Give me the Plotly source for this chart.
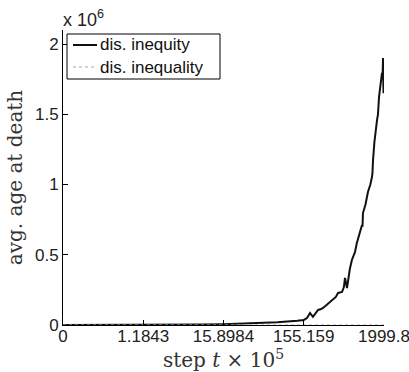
import plotly.graph_objects as go

# tick positions (equally spaced) and their labels
x_tick_pos = [0, 1, 2, 3, 4]
x_tick_text = ["0", "1.1843", "15.8984", "155.159", "1999.8"]
y_tick_vals = [0, 0.5, 1, 1.5, 2]
y_tick_text = ["0", "0.5", "1", "1.5", "2"]

# dis. inequity (values in units of 10^6)
inequity_x = [0, 0.5, 1.0, 1.5, 1.71, 2.0, 2.3, 2.67, 2.92, 3.0, 3.04, 3.078, 3.115,
              3.15, 3.178, 3.21, 3.24, 3.28, 3.327, 3.37, 3.4, 3.427, 3.477, 3.5,
              3.514, 3.539, 3.551, 3.575, 3.60, 3.62, 3.639, 3.66, 3.676, 3.70,
              3.726, 3.732, 3.738, 3.77, 3.8, 3.83, 3.85, 3.856, 3.863, 3.88,
              3.913, 3.925, 3.938, 3.955, 3.975, 3.982, 3.988, 3.991, 3.994]
inequity_y = [0.0, 0.0, 0.0, 0.001, 0.003, 0.006, 0.011, 0.019, 0.03, 0.036, 0.05, 0.085, 0.058,
              0.09, 0.107, 0.112, 0.121, 0.14, 0.164, 0.19, 0.2, 0.228, 0.235, 0.27,
              0.335, 0.263, 0.32, 0.4, 0.463, 0.49, 0.52, 0.58, 0.619, 0.66,
              0.712, 0.70, 0.797, 0.86, 0.947, 1.0, 1.053, 1.08, 1.17, 1.3,
              1.459, 1.5, 1.623, 1.7, 1.794, 1.77, 1.9, 1.75, 1.65]

# dis. inequality
inequality_x = [0, 4]
inequality_y = [0, 0]

series_names = ["dis. inequity", "dis. inequality"]

fig = go.Figure()
fig.add_trace(go.Scatter(x=inequity_x, y=inequity_y, mode="lines", name=series_names[0],
                         line=dict(color="#111111", width=2), showlegend=False))
fig.add_trace(go.Scatter(x=inequality_x, y=inequality_y, mode="lines", name=series_names[1],
                         line=dict(color="#aaaaaa", width=1, dash="dot"), showlegend=False))

tickfont = dict(family="Liberation Sans", size=17, color="#222222")
serif = dict(family="DejaVu Serif", size=20, color="#333333")

# legend drawn as a box in paper coordinates (plot area: 321 x 295 px)
W, H = 321.0, 295.0
def px(x):
    return x / W
def py(y):
    return 1 - y / H

shapes = [
    dict(type="rect", xref="paper", yref="paper", x0=px(4), x1=px(157), y0=py(4), y1=py(49),
         line=dict(color="black", width=1), fillcolor="white", layer="above"),
    dict(type="line", xref="paper", yref="paper", x0=px(10), x1=px(34), y0=py(15), y1=py(15),
         line=dict(color="#111111", width=2), layer="above"),
    dict(type="line", xref="paper", yref="paper", x0=px(10), x1=px(34), y0=py(37), y1=py(37),
         line=dict(color="#aaaaaa", width=1, dash="dot"), layer="above"),
]
annotations = [
    dict(text=series_names[0], xref="paper", yref="paper", x=px(35), y=py(15),
         xanchor="left", yanchor="middle", showarrow=False,
         font=dict(family="Liberation Sans", size=17, color="#111111")),
    dict(text=series_names[1], xref="paper", yref="paper", x=px(35), y=py(37),
         xanchor="left", yanchor="middle", showarrow=False,
         font=dict(family="Liberation Sans", size=17, color="#111111")),
    dict(text="x 10<sup>6</sup>", xref="paper", yref="paper", x=-0.005, y=1.0,
         xanchor="left", yanchor="bottom", showarrow=False, yshift=-2,
         font=dict(family="Liberation Sans", size=18, color="#222222")),
]

fig.update_layout(
    width=409, height=372,
    margin=dict(l=63, r=25, t=30, b=47),
    paper_bgcolor="white", plot_bgcolor="white",
    showlegend=False,
    shapes=shapes,
    annotations=annotations,
    xaxis=dict(range=[0, 4], tickvals=x_tick_pos, ticktext=x_tick_text,
               showgrid=False, zeroline=False, showline=True, linecolor="black",
               linewidth=1, ticks="inside", ticklen=5, tickcolor="black",
               tickfont=tickfont, ticklabeloverflow="allow", automargin=False,
               ticklabelstandoff=-4,
               title=dict(text="step <i>t</i> × 10<sup>5</sup>", font=serif, standoff=0)),
    yaxis=dict(range=[0, 2.1], tickvals=y_tick_vals, ticktext=y_tick_text,
               showgrid=False, zeroline=False, showline=True, linecolor="black",
               linewidth=1, ticks="inside", ticklen=5, tickcolor="black",
               tickfont=tickfont, automargin=False,
               title=dict(text="avg. age at death", font=serif, standoff=6)),
)

fig.write_html("out.html")
